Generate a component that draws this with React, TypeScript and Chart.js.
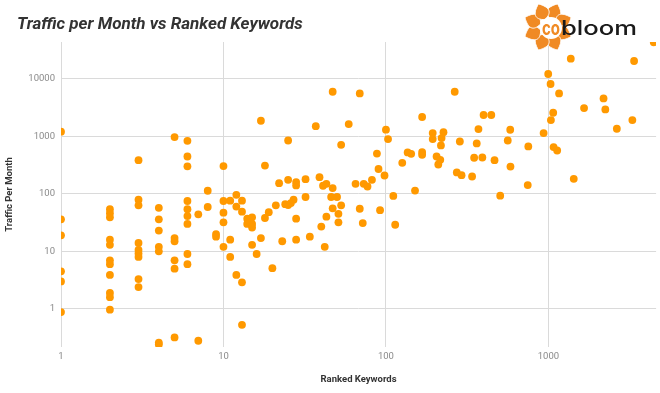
import React, { useEffect, useRef } from 'react';
import { Chart, registerables } from 'chart.js';

Chart.register(...registerables);

const chartTitle = 'Traffic per Month vs Ranked Keywords';
const xAxisTitle = 'Ranked Keywords';
const yAxisTitle = 'Traffic Per Month';

const xTickValues = [1, 10, 100, 1000];
const yTickValues = [1, 10, 100, 1000, 10000];

const rankedKeywords = [
  1, 1, 1, 1, 1, 1,
  2, 2, 2, 2, 2, 2, 2, 2, 2, 2, 2,
  3, 3, 3, 3, 3, 3, 3, 3, 3,
  4, 4, 4, 4, 4, 4, 4,
  5, 5, 5, 5, 5, 5,
  6, 6, 6, 6, 6, 6, 6, 6, 6,
  7, 7, 8, 8, 9, 9,
  10, 10, 10, 10, 10,
  11, 11, 11, 12, 12, 12, 13, 13, 13, 13,
  14, 14, 14.5, 15, 15, 15, 15, 16, 17, 17, 18, 18, 19, 20, 21, 22, 23, 24,
  25, 25, 25, 26, 27, 28, 28, 28, 28, 32, 32, 34, 37, 39, 40, 41, 42, 43, 43, 46,
  47, 47, 47, 50, 51, 51, 53, 53, 59, 65, 69, 69, 72, 73, 77, 82, 88, 90, 92, 98,
  100, 103, 111, 114, 126, 136, 143, 151, 167, 167, 167, 194, 194, 205, 210, 216, 218, 220, 226,
  265, 273, 285, 292, 339, 349, 362, 371, 392, 399, 445, 466, 505, 562, 582, 584, 746, 752, 934,
  997, 1031, 1036, 1070, 1076, 1132, 1163, 1373, 1432, 1657, 2184, 2240, 2637, 3286, 3367, 4450,
];

const trafficPerMonth = [
  1200, 36, 19, 4.5, 3, 0.88,
  54, 46, 39, 16, 13, 7, 6, 3.9, 1.9, 1.6, 0.97,
  385, 79, 63, 14, 10.6, 9.2, 8, 3.3, 2.4,
  57, 36, 23, 12, 10, 0.26, 0.24,
  970, 17, 15, 7, 5, 0.32,
  835, 445, 300, 75, 54, 41, 30, 9, 6,
  44, 0.28, 113, 59, 20, 18,
  303, 75, 47, 32, 12,
  76, 16, 8, 96, 60, 3.9, 76, 49, 2.9, 0.53,
  37, 30, 33, 39, 30, 26, 13, 9, 1860, 17, 310, 38, 48, 5.1, 63, 153, 15, 66,
  845, 175, 64, 69, 79, 160, 140, 37, 16, 180, 88, 18, 1500, 195, 27, 138, 12, 149, 40, 88,
  5940, 126, 56, 88, 45, 32, 711, 63, 1630, 149, 5550, 55, 31, 149, 134, 175, 500, 270, 52, 208,
  1300, 894, 92, 29, 346, 523, 496, 114, 2160, 531, 477, 1137, 894, 445, 323, 390, 692, 931, 1180,
  5940, 235, 812, 211, 200, 423, 750, 1334, 428, 2340, 2340, 385, 93, 845, 1298, 298, 142, 665, 1137,
  12070, 8090, 1914, 2560, 649, 566, 5550, 22300, 182, 3090, 4540, 2925, 1350, 1914, 20300, 43000,
];

const X_MIN = 1;
const X_MAX = 4600;
const Y_MIN = 0.218;
const Y_MAX = 43450;

const POINT_COLOR = '#ff9900';
const GRID_COLOR = '#dadada';
const TICK_COLOR = '#8a8a8a';
const TITLE_COLOR = '#333333';
const LOGO_ORANGE = '#f08a24';

function Flower() {
  const petals = [];
  for (let k = 0; k < 8; k++) {
    petals.push(
      <path
        key={k}
        d="M0,-8 C-10,-12 -9,-18 0,-25 C9,-18 10,-12 0,-8 Z"
        transform={`rotate(${k * 45 + 22.5})`}
        fill={LOGO_ORANGE}
        stroke="#ffffff"
        strokeWidth={0.8}
      />
    );
  }
  return (
    <g transform="translate(28,27)">
      {petals}
      <circle cx={3} cy={1} r={11} fill="#ffffff" />
    </g>
  );
}

export default function App() {
  const canvasRef = useRef<HTMLCanvasElement | null>(null);

  useEffect(() => {
    const points = rankedKeywords.map((x, i) => ({ x, y: trafficPerMonth[i] }));
    const chart = new Chart(canvasRef.current as HTMLCanvasElement, {
      type: 'scatter',
      data: {
        datasets: [
          {
            data: points,
            backgroundColor: POINT_COLOR,
            borderWidth: 0,
            pointRadius: 3.9,
            pointHoverRadius: 3.9,
            clip: 0,
          } as any,
        ],
      },
      options: {
        animation: false,
        responsive: false,
        maintainAspectRatio: false,
        layout: { padding: { top: 42, right: 0, left: 0, bottom: 0 } },
        plugins: {
          legend: { display: false },
          tooltip: { enabled: false },
          title: { display: false },
        },
        scales: {
          x: {
            type: 'logarithmic',
            min: X_MIN,
            max: X_MAX,
            afterBuildTicks: (s: any) => {
              s.ticks = xTickValues.map((v) => ({ value: v }));
            },
            afterFit: (s: any) => {
              s.height = 46;
            },
            grid: { color: GRID_COLOR, lineWidth: 1, drawTicks: false },
            border: { display: false },
            ticks: {
              autoSkip: false,
              maxRotation: 0,
              padding: 4,
              color: TICK_COLOR,
              font: { family: 'Roboto', size: 9.5 },
              callback: (v: any) => String(v),
            },
            title: {
              display: true,
              text: xAxisTitle,
              color: TITLE_COLOR,
              font: { family: 'Roboto', size: 9.5, weight: 'bold' },
              padding: { top: 0, bottom: 8 },
            },
          },
          y: {
            type: 'logarithmic',
            min: Y_MIN,
            max: Y_MAX,
            afterBuildTicks: (s: any) => {
              s.ticks = yTickValues.map((v) => ({ value: v }));
            },
            afterFit: (s: any) => {
              s.width = 61;
            },
            grid: { color: GRID_COLOR, lineWidth: 1, drawTicks: false },
            border: { display: false },
            ticks: {
              autoSkip: false,
              padding: 6,
              color: TICK_COLOR,
              font: { family: 'Roboto', size: 9.5 },
              callback: (v: any) => String(v),
            },
            title: {
              display: true,
              text: yAxisTitle,
              color: TITLE_COLOR,
              font: { family: 'Roboto', size: 9.5, weight: 'bold' },
              padding: { top: 4, bottom: 0 },
            },
          },
        },
      } as any,
    });
    return () => chart.destroy();
  }, []);

  return (
    <div style={{ position: 'absolute', left: 0, top: 0, width: 660, height: 393, background: '#ffffff', overflow: 'hidden' }}>
      <canvas ref={canvasRef} width={660} height={393} style={{ position: 'absolute', left: 0, top: 0, width: 660, height: 393 }} />
      <div
        style={{
          position: 'absolute',
          left: 17,
          top: 12.5,
          fontFamily: 'Roboto',
          fontStyle: 'italic',
          fontWeight: 'bold',
          fontSize: 17,
          lineHeight: '20px',
          color: TITLE_COLOR,
          whiteSpace: 'nowrap',
        }}
      >
        {chartTitle}
      </div>
      <svg style={{ position: 'absolute', left: 520, top: 0 }} width={140} height={56} viewBox="0 0 140 56">
        <Flower />
        <text x={22} y={35} fontFamily="Inter" fontWeight={700} fontSize={20} fill={LOGO_ORANGE} textLength={18} lengthAdjust="spacingAndGlyphs">co</text>
        <text x={41} y={35} fontFamily="Inter" fontWeight={500} fontSize={20} fill="#1a1a1a" textLength={76} lengthAdjust="spacingAndGlyphs">bloom</text>
      </svg>
    </div>
  );
}
